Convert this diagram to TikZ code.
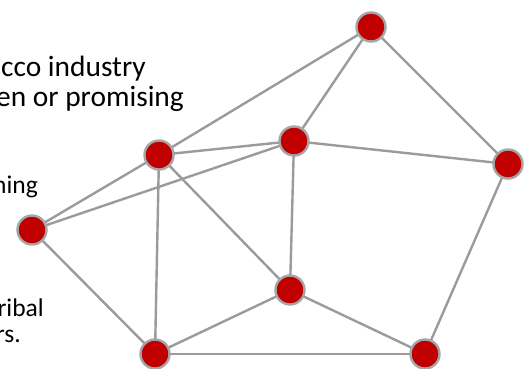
\documentclass[tikz,border=0pt]{standalone}
\usepackage{fontspec}
\setmainfont{Carlito}
\definecolor{nodered}{RGB}{192,0,0}
\definecolor{ringgray}{RGB}{165,165,165}
\definecolor{edgegray}{RGB}{155,155,158}
\tikzset{
  vert/.style={circle, fill=nodered, draw=ringgray, line width=2.4pt, minimum size=29pt, inner sep=0pt},
  link/.style={draw=edgegray, line width=2.4pt},
  frag/.style={anchor=base east, inner sep=0pt, text=black},
  bigfrag/.style={frag, font=\fontsize{29.4}{32}\selectfont},
  smallfrag/.style={frag, font=\fontsize{25.5}{28}\selectfont}
}
\begin{document}
\begin{tikzpicture}[x=1pt, y=-1pt]
\useasboundingbox (0,0) rectangle (532,368);
\clip (0,0) rectangle (532,368);
\fill[white] (0,0) rectangle (532,368);
% text fragments
\node[bigfrag] (t1) at (146,76) {tobacco industry};
\node[bigfrag] (t2) at (184,106) {proven or promising};
\node[smallfrag] (t3) at (38,193) {training};
\node[smallfrag] (t4) at (44,316) {tribal};
\node[smallfrag] (t5) at (21,342) {others.};
% vertices
\coordinate (pA) at (371,27);
\coordinate (pB) at (159,155);
\coordinate (pC) at (294,141);
\coordinate (pD) at (508,164);
\coordinate (pE) at (32,230);
\coordinate (pF) at (290,290);
\coordinate (pG) at (155,354);
\coordinate (pH) at (425,354);
% edges
\draw[link] (pA) -- (pB);
\draw[link] (pA) -- (pC);
\draw[link] (pA) -- (pD);
\draw[link] (pB) -- (pC);
\draw[link] (pB) -- (pE);
\draw[link] (pB) -- (pG);
\draw[link] (pB) -- (pF);
\draw[link] (pC) -- (pE);
\draw[link] (pC) -- (pF);
\draw[link] (pC) -- (pD);
\draw[link] (pD) -- (pH);
\draw[link] (pF) -- (pG);
\draw[link] (pF) -- (pH);
\draw[link] (pG) -- (pH);
\draw[link] (pE) -- (pG);
% nodes
\node[vert] (A) at (pA) {};
\node[vert] (B) at (pB) {};
\node[vert] (C) at (pC) {};
\node[vert] (D) at (pD) {};
\node[vert] (E) at (pE) {};
\node[vert] (F) at (pF) {};
\node[vert] (G) at (pG) {};
\node[vert] (H) at (pH) {};
\end{tikzpicture}
\end{document}
